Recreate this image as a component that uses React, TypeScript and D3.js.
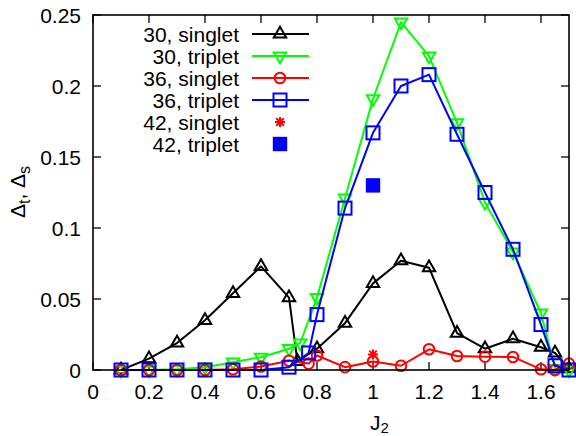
import React from "react";
import * as d3 from "d3";

// J2 coupling values and gaps for each cluster size / sector
const x30s = [0.1, 0.2, 0.3, 0.4, 0.5, 0.6, 0.7, 0.73, 0.8, 0.9, 1.0, 1.1, 1.2, 1.3, 1.4, 1.5, 1.6, 1.65, 1.7];
const y30s = [0, 0.008, 0.019, 0.035, 0.054, 0.073, 0.051, 0.006, 0.015, 0.033, 0.061, 0.077, 0.072, 0.026, 0.015, 0.022, 0.016, 0.012, 0.001];

const x30t = [0.1, 0.2, 0.3, 0.4, 0.5, 0.6, 0.7, 0.74, 0.8, 0.9, 1.0, 1.1, 1.2, 1.3, 1.4, 1.5, 1.6, 1.65, 1.7];
const y30t = [0, 0, 0.0005, 0.002, 0.0055, 0.009, 0.015, 0.019, 0.051, 0.121, 0.191, 0.245, 0.221, 0.174, 0.118, 0.083, 0.04, 0.001, 0];

const x36s = [0.1, 0.2, 0.3, 0.4, 0.5, 0.6, 0.7, 0.77, 0.8, 0.9, 1.0, 1.1, 1.2, 1.3, 1.4, 1.5, 1.6, 1.65, 1.7];
const y36s = [0, 0, 0, 0, 0.0005, 0.0025, 0.0065, 0.0045, 0.0102, 0.002, 0.006, 0.003, 0.0146, 0.0099, 0.0094, 0.0092, 0.0005, 0, 0.0045];

const x36t = [0.1, 0.2, 0.3, 0.4, 0.5, 0.6, 0.7, 0.77, 0.8, 0.9, 1.0, 1.1, 1.2, 1.3, 1.4, 1.5, 1.6, 1.65, 1.7];
const y36t = [0, 0, 0, 0, 0, 0, 0.002, 0.012, 0.039, 0.114, 0.167, 0.2, 0.208, 0.166, 0.125, 0.085, 0.032, 0.003, 0];

const x42s = [1.0];
const y42s = [0.011];
const x42t = [1.0];
const y42t = [0.13];

const xTicks = [0, 0.2, 0.4, 0.6, 0.8, 1, 1.2, 1.4, 1.6];
const yTicks = [0, 0.05, 0.1, 0.15, 0.2, 0.25];

const seriesLabels = ["30, singlet", "30, triplet", "36, singlet", "36, triplet", "42, singlet", "42, triplet"];

const W = 576;
const H = 436;
const left = 93;
const right = 569;
const top = 15;
const bottom = 370;
const FONT = "'Liberation Sans', Arial, Helvetica, sans-serif";
const FS = 21;

const xScale = d3.scaleLinear().domain([0, 1.7]).range([left, right]);
const yScale = d3.scaleLinear().domain([0, 0.25]).range([bottom, top]);

type Shape = "triUp" | "triDown" | "circle" | "square" | "star" | "filledSquare";

function Marker({ shape, cx, cy, color }: { shape: Shape; cx: number; cy: number; color: string }) {
  const sw = 2;
  if (shape === "triUp" || shape === "triDown") {
    const a = 6.2;
    const h = a * Math.sqrt(3);
    const s = shape === "triUp" ? 1 : -1;
    const apex = cy - (s * 2 * h) / 3;
    const base = cy + (s * h) / 3;
    const d = `M${cx},${apex}L${cx + a},${base}L${cx - a},${base}Z`;
    return <path d={d} fill="none" stroke={color} strokeWidth={sw} />;
  }
  if (shape === "circle") {
    return <circle cx={cx} cy={cy} r={5.3} fill="none" stroke={color} strokeWidth={sw} />;
  }
  if (shape === "square") {
    const s = 6.5;
    return <rect x={cx - s} y={cy - s} width={2 * s} height={2 * s} fill="none" stroke={color} strokeWidth={sw} />;
  }
  if (shape === "filledSquare") {
    const s = 7.2;
    return <rect x={cx - s} y={cy - s} width={2 * s} height={2 * s} fill={color} stroke="none" />;
  }
  // asterisk: plus and cross
  const r = 5;
  const q = r * 0.75;
  const d = `M${cx - r},${cy}L${cx + r},${cy}M${cx},${cy - r}L${cx},${cy + r}M${cx - q},${cy - q}L${cx + q},${cy + q}M${cx - q},${cy + q}L${cx + q},${cy - q}`;
  return <path d={d} fill="none" stroke={color} strokeWidth={2} />;
}

interface Series {
  label: string;
  xs: number[];
  ys: number[];
  color: string;
  shape: Shape;
  line: boolean;
}

const series: Series[] = [
  { label: seriesLabels[0], xs: x30s, ys: y30s, color: "#000000", shape: "triUp", line: true },
  { label: seriesLabels[1], xs: x30t, ys: y30t, color: "#00ff00", shape: "triDown", line: true },
  { label: seriesLabels[2], xs: x36s, ys: y36s, color: "#ff0000", shape: "circle", line: true },
  { label: seriesLabels[3], xs: x36t, ys: y36t, color: "#0000ff", shape: "square", line: true },
  { label: seriesLabels[4], xs: x42s, ys: y42s, color: "#ff0000", shape: "star", line: false },
  { label: seriesLabels[5], xs: x42t, ys: y42t, color: "#0000ff", shape: "filledSquare", line: false },
];

const lineGen = d3
  .line<[number, number]>()
  .x((d) => xScale(d[0]))
  .y((d) => yScale(d[1]));

function fmt(v: number) {
  return String(Math.round(v * 1000) / 1000);
}

export default function App() {
  const tickLen = 8;
  const legendTextX = 239;
  const legendLineX0 = 252;
  const legendLineX1 = 309;
  const legendY0 = 34;
  const legendDy = 22;

  return (
    <svg
      width={W}
      height={H}
      viewBox={`0 0 ${W} ${H}`}
      style={{ position: "fixed", left: 0, top: 0, background: "#fff" }}
      fontFamily={FONT}
    >
      <rect x={0} y={0} width={W} height={H} fill="#fff" />

      {/* ticks on all four sides, pointing inward */}
      <g stroke="#000" strokeWidth={1.3}>
        {xTicks.map((t) => (
          <g key={`xt${t}`}>
            <line x1={xScale(t)} x2={xScale(t)} y1={bottom} y2={bottom - tickLen} />
            <line x1={xScale(t)} x2={xScale(t)} y1={top} y2={top + tickLen} />
          </g>
        ))}
        {yTicks.map((t) => (
          <g key={`yt${t}`}>
            <line x1={left} x2={left + tickLen} y1={yScale(t)} y2={yScale(t)} />
            <line x1={right} x2={right - tickLen} y1={yScale(t)} y2={yScale(t)} />
          </g>
        ))}
      </g>

      {/* tick labels */}
      <g fontSize={FS} fill="#000">
        {xTicks.map((t) => (
          <text key={`xl${t}`} x={xScale(t)} y={bottom + 29} textAnchor="middle">
            {fmt(t)}
          </text>
        ))}
        {yTicks.map((t) => (
          <text key={`yl${t}`} x={left - 12} y={yScale(t) + 8} textAnchor="end">
            {fmt(t)}
          </text>
        ))}
      </g>

      {/* axis titles */}
      <text x={370} y={430} fontSize={FS} fill="#000">
        J<tspan fontSize={15} dy={3}>2</tspan>
      </text>
      <text
        transform={`translate(25,192) rotate(-90)`}
        textAnchor="middle"
        fontSize={FS}
        fill="#000"
      >
        Δ<tspan fontSize={16} dy={5}>t</tspan>
        <tspan dy={-5}>, Δ</tspan>
        <tspan fontSize={16} dy={5}>s</tspan>
      </text>

      {/* legend */}
      <g fontSize={FS} fill="#000">
        {series.map((s, i) => {
          const cy = legendY0 + i * legendDy;
          const mx = (legendLineX0 + legendLineX1) / 2 - 0.5;
          return (
            <g key={`lg${i}`}>
              <text x={legendTextX} y={cy + 7.5} textAnchor="end">
                {s.label}
              </text>
              {s.line && (
                <line x1={legendLineX0} x2={legendLineX1} y1={cy} y2={cy} stroke={s.color} strokeWidth={2} />
              )}
              <Marker shape={s.shape} cx={mx} cy={cy} color={s.color} />
            </g>
          );
        })}
      </g>

      {/* data series */}
      {series.map((s, i) => {
        const pts: [number, number][] = s.xs.map((x, j) => [x, s.ys[j]]);
        return (
          <g key={`s${i}`}>
            {s.line && <path d={lineGen(pts) || ""} fill="none" stroke={s.color} strokeWidth={2} strokeLinejoin="round" />}
            {pts.map((p, j) => (
              <Marker key={j} shape={s.shape} cx={xScale(p[0])} cy={yScale(p[1])} color={s.color} />
            ))}
          </g>
        );
      })}

      {/* plot frame */}
      <rect x={left} y={top} width={right - left} height={bottom - top} fill="none" stroke="#000" strokeWidth={1.6} />
    </svg>
  );
}
